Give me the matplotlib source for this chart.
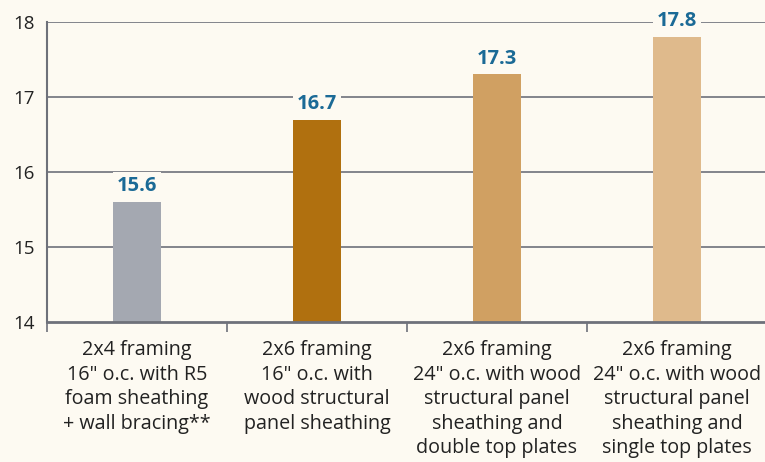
import matplotlib.pyplot as plt
import numpy as np

plt.rcParams['font.family'] = ['Open Sans', 'DejaVu Sans']

categories = ['2x4 framing\n16" o.c. with R5\nfoam sheathing\n+ wall bracing**',
              '2x6 framing\n16" o.c. with\nwood structural\npanel sheathing',
              '2x6 framing\n24" o.c. with wood\nstructural panel\nsheathing and\ndouble top plates',
              '2x6 framing\n24" o.c. with wood\nstructural panel\nsheathing and\nsingle top plates']
values = [15.6, 16.7, 17.3, 17.8]
colors = ['#a4a8b1', '#b0700f', '#d0a062', '#dfba8c']
yticks = [14, 15, 16, 17, 18]

bg = '#fdfaf2'
grid_c = '#6e717a'

fig = plt.figure(figsize=(7.65, 4.62), dpi=100, facecolor=bg)
ax = fig.add_axes([47/765, 140/462, 720/765, 300/462], facecolor=bg)

x = np.arange(len(values))
ax.bar(x, [v - 14 for v in values], bottom=14, width=0.267, color=colors, zorder=2)

for xi, v in zip(x, values):
    ax.text(xi, v + 0.08, f'{v:.1f}', ha='center', va='bottom', fontsize=14.5,
            fontweight='bold', color='#1b6a96', zorder=4,
            bbox=dict(boxstyle='square,pad=0.2', fc=bg, ec='none'))

ax.set_xlim(-0.5, 3.5)
ax.set_ylim(14, 18)
ax.set_yticks(yticks)
ax.set_yticklabels([str(t) for t in yticks], fontsize=13.5, color='#222222')
for t in yticks[1:]:
    ax.axhline(t, color=grid_c, lw=1.2, zorder=1)

ax.set_xticks(x)
ax.set_xticklabels(categories, fontsize=14.2, color='#222222', linespacing=1.3)
ax.set_xticks(np.arange(-0.5, 4, 1), minor=True)
ax.tick_params(axis='x', which='major', length=0, pad=13)
ax.tick_params(axis='x', which='minor', length=7, width=1.2, color=grid_c)
ax.tick_params(axis='y', length=0, pad=9)

for s in ['top', 'right']:
    ax.spines[s].set_visible(False)
ax.spines['left'].set_color(grid_c)
ax.spines['left'].set_linewidth(1.5)
ax.spines['bottom'].set_color(grid_c)
ax.spines['bottom'].set_linewidth(2)

fig.savefig('out.png', dpi=100, facecolor=bg)
